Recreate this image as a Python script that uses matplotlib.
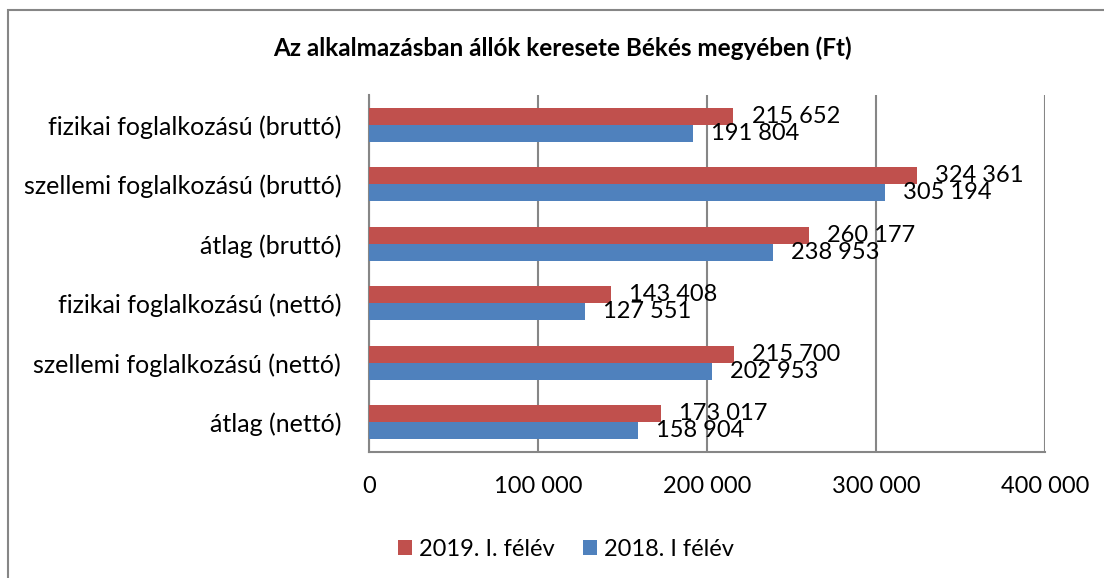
import matplotlib
matplotlib.use("Agg")
import matplotlib.pyplot as plt
import numpy as np
from matplotlib.patches import Rectangle

# data (top to bottom as in the chart)
categories = [
    "fizikai foglalkozású (bruttó)",
    "szellemi foglalkozású (bruttó)",
    "átlag (bruttó)",
    "fizikai foglalkozású (nettó)",
    "szellemi foglalkozású (nettó)",
    "átlag (nettó)",
]
values_2019 = [215652, 324361, 260177, 143408, 215700, 173017]
values_2018 = [191804, 305194, 238953, 127551, 202953, 158904]
series_names = ["2019. I. félév", "2018. I félév"]
xticks = [0, 100000, 200000, 300000, 400000]

RED = "#C0504D"
BLUE = "#4F81BD"
GRID = "#868686"

plt.rcParams["font.family"] = ["Lato", "DejaVu Sans"]


def fmt(v):
    return f"{v:,}".replace(",", " ")


fig = plt.figure(figsize=(11.04, 5.78), dpi=100)
ax = fig.add_axes([369 / 1104, 126 / 578, 676 / 1104, 357 / 578])

n = len(categories)
y = np.arange(n)
h = 0.286

bars_r = ax.barh(y - h / 2, values_2019, height=h, color=RED, label=series_names[0], zorder=3)
bars_b = ax.barh(y + h / 2, values_2018, height=h, color=BLUE, label=series_names[1], zorder=3)

for bars, vals in ((bars_r, values_2019), (bars_b, values_2018)):
    for b, v in zip(bars, vals):
        ax.annotate(fmt(v), (v, b.get_y() + b.get_height() / 2),
                    xytext=(13, 0), textcoords="offset points",
                    ha="left", va="center", fontsize=17, color="black", zorder=4)

ax.set_ylim(n - 0.5, -0.5)
ax.set_xlim(0, 400000)
ax.set_yticks(y)
ax.set_yticklabels(categories, fontsize=18)
ax.set_xticks(xticks)
ax.set_xticklabels([fmt(t) for t in xticks], fontsize=17)
ax.tick_params(axis="both", length=0)
ax.tick_params(axis="y", pad=20)
ax.tick_params(axis="x", pad=17)

ax.grid(axis="x", color=GRID, linewidth=1.5, zorder=0)
for s in ("top", "right"):
    ax.spines[s].set_visible(False)
for s in ("left", "bottom"):
    ax.spines[s].set_color(GRID)
    ax.spines[s].set_linewidth(1.5)

fig.text(562 / 1104, 1 - 48 / 578,
         "Az alkalmazásban állók keresete Békés megyében (Ft)",
         ha="center", va="center", fontsize=17.5, fontweight="bold")

fig.legend(loc="center", bbox_to_anchor=(566 / 1104, 1 - 549 / 578), ncol=2,
           frameon=False, fontsize=17, handlelength=0.6, handleheight=0.6,
           handletextpad=0.3, columnspacing=1.2)

fig.patches.append(Rectangle((8 / 1104, -0.1), 1.2, 1.1 - 10 / 578,
                             transform=fig.transFigure, fill=False,
                             edgecolor=GRID, linewidth=1.5))

fig.savefig("out.png", dpi=100)
